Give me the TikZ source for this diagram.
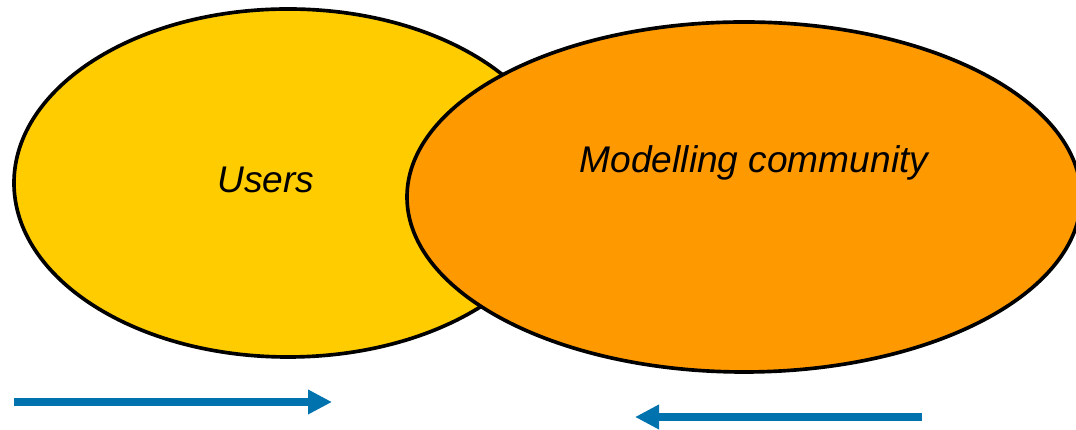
\documentclass[tikz,border=0pt]{standalone}
\usepackage{fontspec}
\setmainfont{Liberation Sans}
\usepackage{xcolor}
\usetikzlibrary{shapes.geometric, arrows.meta, positioning}
\definecolor{usersY}{HTML}{FFCC00}
\definecolor{modelO}{HTML}{FF9900}
\definecolor{flowB}{HTML}{0072AE}
\tikzset{
  circY/.style  = {ellipse, draw=black, fill=usersY, line width=2.6pt, inner sep=0pt},
  circO/.style  = {ellipse, draw=black, fill=modelO, line width=2.6pt, inner sep=0pt},
  lbl/.style    = {font=\fontsize{26.4}{31}\selectfont\itshape, inner sep=0pt},
  flow/.style   = {line width=5pt, draw=flowB,
                   -{Triangle[length=0.6cm, width=0.58cm]}},
}
\begin{document}
\begin{tikzpicture}

    \useasboundingbox (0,0) rectangle (26.9,10.75);

    %% Two overlapping groups
    \node[circY, minimum width=13.7cm, minimum height=8.7cm]   (users) at (7.2, 6.175) {};
    \node[circO, minimum width=16.85cm, minimum height=8.75cm] (model) at (18.6, 5.825) {};

    \node[lbl] (usersT) at (6.65, 6.25) {Users};
    \node[lbl] (modelT) at (18.85, 6.68) {Modelling community};

    %% Flows
    \coordinate (f1s) at (0.35, 0.7);
    \coordinate (f1e) at (8.3, 0.7);
    \coordinate (f2s) at (23.05, 0.325);
    \coordinate (f2e) at (15.875, 0.325);
    \draw[flow] (f1s) -- (f1e);
    \draw[flow] (f2s) -- (f2e);

\end{tikzpicture}
\end{document}
